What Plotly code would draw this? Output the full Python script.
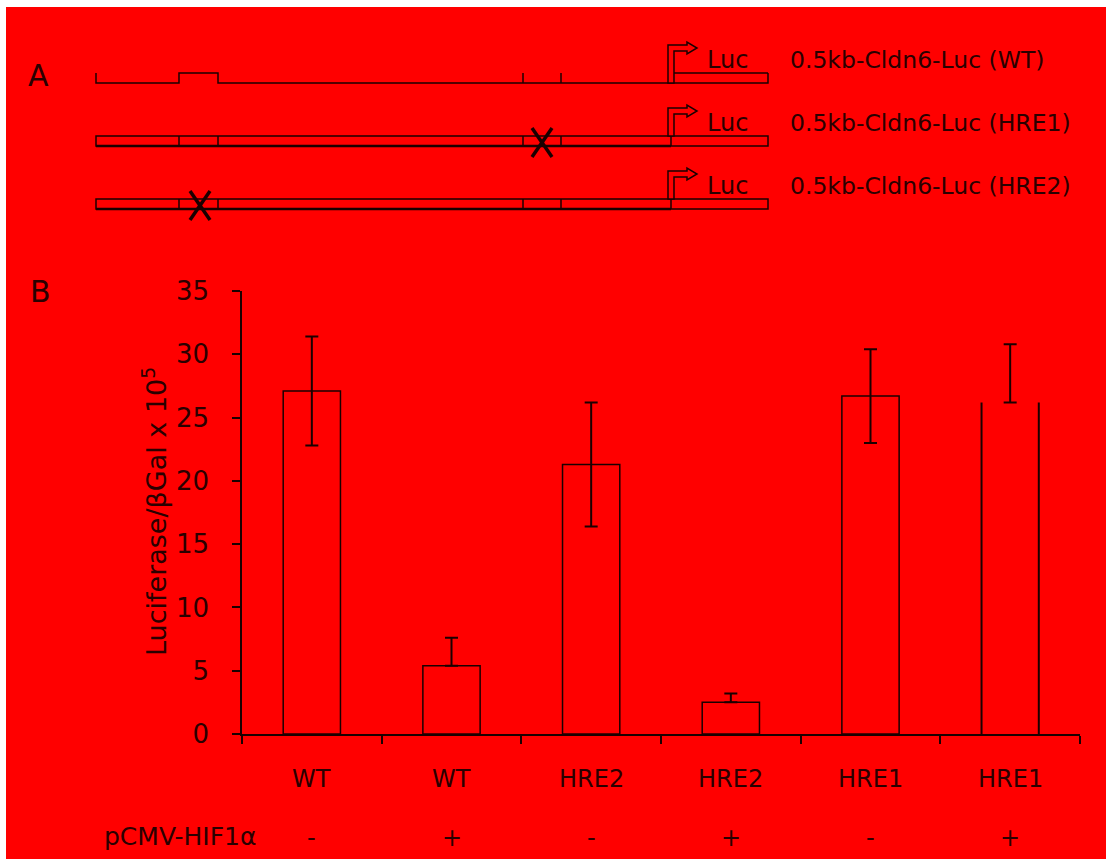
import plotly.graph_objects as go

# ---- Panel B data: luciferase reporter activity ----
constructs = ["WT", "WT", "HRE2", "HRE2", "HRE1", "HRE1"]
hif1a = ["-", "+", "-", "+", "-", "+"]
luciferase = [27.1, 5.4, 21.3, 2.5, 26.7, 26.2]
err_plus = [4.3, 2.2, 4.9, 0.7, 3.7, 4.6]
err_minus = [4.3, 0.0, 4.9, 0.0, 3.7, 0.0]
y_ticks = [0, 5, 10, 15, 20, 25, 30, 35]

# ---- Panel A: reporter constructs ----
reporter_names = ["0.5kb-Cldn6-Luc (WT)", "0.5kb-Cldn6-Luc (HRE1)", "0.5kb-Cldn6-Luc (HRE2)"]
mutated_site = [None, "HRE1", "HRE2"]

W, H = 1106, 859
RED = "#ff0000"
INK = "#1a0000"
TXT = "#2a0000"
FONT = "DejaVu Sans"
BAR_W = 0.41


def px(x):
    return x / W


def py(y):
    return 1 - y / H


def seg(x0, y0, x1, y1, width=1.5, color=INK):
    return dict(type="line", xref="paper", yref="paper",
                x0=px(x0), y0=py(y0), x1=px(x1), y1=py(y1),
                line=dict(color=color, width=width))


def path(points, width=1.5, fill=None, closed=False):
    d = "M" + " L".join(f"{px(x):.5f},{py(y):.5f}" for x, y in points)
    if closed:
        d += " Z"
    return dict(type="path", xref="paper", yref="paper", path=d,
                line=dict(color=INK, width=width),
                fillcolor=fill if fill else "rgba(0,0,0,0)")


shapes = [
    # full red backdrop with a thin white margin at top/left
    dict(type="rect", xref="paper", yref="paper", x0=px(6), x1=1, y0=0, y1=py(7),
         fillcolor=RED, line=dict(width=0), layer="below"),
]
annotations = []

# construct layout (pixel positions along the promoter)
X_START, X_PROM, X_END = 96, 671, 768
dividers = [179, 218, 523, 561]
hre_centre = {"HRE2": 200, "HRE1": 542}
row_tops = [73, 136, 199]

for k, top in enumerate(row_tops):
    bot = top + 10
    if k == 0:
        # wild-type: baseline with the HRE2 block raised
        shapes.append(path([(X_START, top), (X_START, bot), (dividers[0], bot),
                            (dividers[0], top), (dividers[1], top), (dividers[1], bot),
                            (X_END, bot), (X_END, top)]))
        shapes.append(seg(674, top, X_END, top))
        for d in dividers[2:]:
            shapes.append(seg(d, top, d, bot))
        arrow_bot = bot
    else:
        shapes.append(dict(type="rect", xref="paper", yref="paper",
                           x0=px(X_START), x1=px(X_END), y0=py(bot), y1=py(top),
                           line=dict(color=INK, width=1.5), fillcolor="rgba(0,0,0,0)"))
        shapes.append(seg(X_START, bot, X_PROM, bot, width=2.5))
        for d in dividers + [X_PROM]:
            shapes.append(seg(d, top, d, bot))
        arrow_bot = top
    # transcription start arrow
    shapes.append(path([(668, arrow_bot), (668, top - 28), (687, top - 28), (687, top - 31),
                        (697, top - 25), (687, top - 19), (687, top - 22), (674, top - 22),
                        (674, arrow_bot)], width=1.5, fill=RED, closed=True))
    # mutated HRE marked with a cross
    site = mutated_site[k]
    if site:
        cx, cy = hre_centre[site], top + 6
        shapes.append(seg(cx - 10, cy - 14, cx + 10, cy + 15, width=3.5))
        shapes.append(seg(cx + 10, cy - 14, cx - 10, cy + 15, width=3.5))
    annotations.append(dict(text="Luc", xref="paper", yref="paper", x=px(705), y=py(top - 13),
                            xanchor="left", yanchor="middle", showarrow=False,
                            font=dict(family=FONT, size=24, color=TXT)))
    annotations.append(dict(text=reporter_names[k], xref="paper", yref="paper", x=px(788),
                            y=py(top - 13), xanchor="left", yanchor="middle", showarrow=False,
                            font=dict(family=FONT, size=23.5, color=TXT)))

# panel letters
for letter, (lx, ly) in {"A": (38, 76), "B": (40, 291)}.items():
    annotations.append(dict(text=letter, xref="paper", yref="paper", x=px(lx), y=py(ly),
                            xanchor="center", yanchor="middle", showarrow=False,
                            font=dict(family=FONT, size=30, color=TXT)))

# category labels and HIF1a row under the bars
for i, (name, sign) in enumerate(zip(constructs, hif1a)):
    annotations.append(dict(text=name, xref="x", yref="paper", x=i, y=py(779),
                            xanchor="center", yanchor="middle", showarrow=False,
                            font=dict(family=FONT, size=24, color=TXT)))
    annotations.append(dict(text=sign, xref="x", yref="paper", x=i, y=py(838),
                            xanchor="center", yanchor="middle", showarrow=False,
                            font=dict(family=FONT, size=24, color=TXT)))
annotations.append(dict(text="pCMV-HIF1α", xref="paper", yref="paper", x=px(180), y=py(836),
                        xanchor="center", yanchor="middle", showarrow=False,
                        font=dict(family=FONT, size=25, color=TXT)))
annotations.append(dict(text="Luciferase/βGal x 10<sup>5</sup>", xref="paper", yref="paper",
                        x=px(154), y=py(512), xanchor="center", yanchor="middle",
                        textangle=-90, showarrow=False,
                        font=dict(family=FONT, size=27, color=TXT)))

n = len(luciferase)
# the last bar is drawn open at the top: outline off, sides added as axis-referenced lines
outline_w = [1.5] * (n - 1) + [0]
last = n - 1
for side in (-BAR_W / 2, BAR_W / 2):
    shapes.append(dict(type="line", xref="x", yref="y", x0=last + side, x1=last + side,
                       y0=0, y1=luciferase[last], line=dict(color=INK, width=2)))

fig = go.Figure(go.Bar(
    x=list(range(n)), y=luciferase, width=BAR_W,
    marker=dict(color=RED, line=dict(color=INK, width=outline_w)),
    error_y=dict(type="data", array=err_plus, arrayminus=err_minus, symmetric=False,
                 color=INK, thickness=2, width=6.5),
    showlegend=False,
))

fig.update_layout(
    width=W, height=H, margin=dict(l=0, r=0, t=0, b=0, pad=0, autoexpand=False),
    paper_bgcolor="white", plot_bgcolor="rgba(0,0,0,0)",
    shapes=shapes, annotations=annotations,
    xaxis=dict(domain=[px(242), px(1080)], range=[-0.5, n - 0.5],
               tickvals=[i - 0.5 for i in range(n + 1)], showticklabels=False,
               ticks="outside", ticklen=8, tickcolor=INK, tickwidth=1.5,
               showline=True, linecolor=INK, linewidth=1.5,
               showgrid=False, zeroline=False, fixedrange=True, automargin=False),
    yaxis=dict(domain=[1 - 734 / H, 1 - 291 / H], range=[0, 35], tickvals=y_ticks,
               ticks="outside", ticklen=8, tickcolor=INK, tickwidth=1.5,
               showline=True, linecolor=INK, linewidth=1.5,
               showgrid=False, zeroline=False, ticklabelstandoff=18, automargin=False,
               tickfont=dict(family=FONT, size=26, color=TXT)),
)

fig.write_html("out.html")
